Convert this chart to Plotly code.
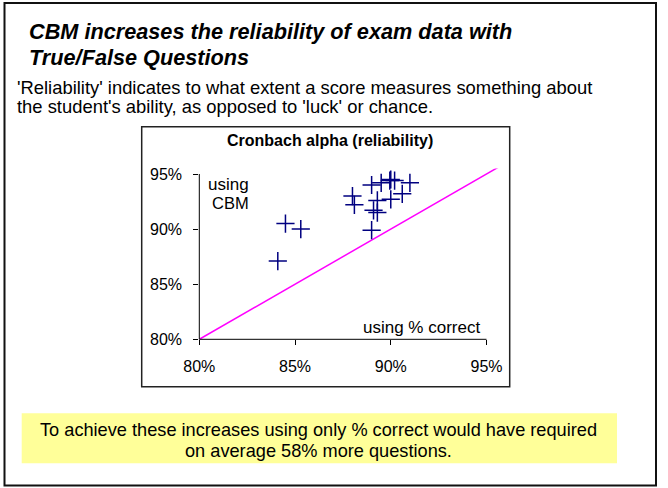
import plotly.graph_objects as go

# ---- data ----
pct_correct = [0.841, 0.845, 0.853, 0.880, 0.881, 0.890, 0.890, 0.891, 0.893,
               0.893, 0.895, 0.8995, 0.900, 0.902, 0.900, 0.906, 0.910]
cbm_alpha   = [0.871, 0.905, 0.900, 0.930, 0.922, 0.940, 0.899, 0.917, 0.915,
               0.926, 0.942, 0.944, 0.945, 0.944, 0.927, 0.932, 0.942]
diag = [0.80, 0.957]
tick_vals = [0.80, 0.85, 0.90, 0.95]

title_lines = ["CBM increases the reliability of exam data with", "True/False Questions"]
sub_lines = ["'Reliability' indicates to what extent a score measures something about",
             "the student's ability, as opposed to 'luck' or chance."]
note_lines = ["To achieve these increases using only % correct would have required",
              "on average 58% more questions."]

W, H = 668, 488
FONT = "Arial, 'Liberation Sans', sans-serif"

def px(x):
    return x / W

def py(y):
    return 1 - y / H

# plot geometry (pixels)
X0, X95 = 199.3, 486.5
Y0, Y95 = 339.3, 174.0
xr = [0.80, 0.957]
yr = [0.80, 0.955]
sx = (X95 - X0) / 0.15
sy = (Y0 - Y95) / 0.15
xright = X0 + (xr[1] - xr[0]) * sx
ytop = Y0 - (yr[1] - yr[0]) * sy

fig = go.Figure()
fig.add_trace(go.Scatter(x=diag, y=diag, mode="lines",
                         line=dict(color="#FF00FF", width=1.5),
                         hoverinfo="skip", showlegend=False))
fig.add_trace(go.Scatter(x=pct_correct, y=cbm_alpha, mode="markers",
                         marker=dict(symbol="cross-thin", size=13,
                                     line=dict(color="#000080", width=1.5)),
                         showlegend=False, cliponaxis=False))

shapes = [
    # outer frame
    dict(type="rect", xref="paper", yref="paper", x0=px(4.5), x1=px(656), y0=py(3), y1=py(485.5),
         line=dict(color="#111111", width=2), fillcolor="rgba(0,0,0,0)", layer="below"),
    # chart box
    dict(type="rect", xref="paper", yref="paper", x0=px(141.7), x1=px(509.7), y0=py(126.7), y1=py(386.7),
         line=dict(color="#222222", width=1.5), fillcolor="white", layer="below"),
    # yellow note box
    dict(type="rect", xref="paper", yref="paper", x0=px(21.7), x1=px(617), y0=py(413.3), y1=py(463.3),
         line=dict(width=0), fillcolor="#FFFF99", layer="below"),
    # axis lines
    dict(type="line", xref="paper", yref="paper", x0=px(X0), x1=px(X0), y0=py(Y0), y1=py(Y95),
         line=dict(color="black", width=1)),
    dict(type="line", xref="paper", yref="paper", x0=px(X0), x1=px(X95), y0=py(Y0), y1=py(Y0),
         line=dict(color="black", width=1)),
]

ann = []
def text(x, y, s, size, xanchor="left", bold=False, italic=False):
    t = s
    if italic:
        t = "<i>" + t + "</i>"
    if bold:
        t = "<b>" + t + "</b>"
    ann.append(dict(x=px(x), y=py(y), xref="paper", yref="paper", text=t, showarrow=False,
                    xanchor=xanchor, yanchor="middle",
                    font=dict(family=FONT, size=size, color="black")))

text(27, 32, title_lines[0], 21.7, bold=True, italic=True)
text(27, 58, title_lines[1], 21.7, bold=True, italic=True)
text(15, 87, sub_lines[0], 18.4)
text(15, 107, sub_lines[1], 18.4)
text(329.5, 141, "Cronbach alpha (reliability)", 16, xanchor="center", bold=True)
text(228.5, 184, "using", 17, xanchor="center")
text(230, 203, "CBM", 16.5, xanchor="center")
text(421, 327, "using % correct", 17, xanchor="center")
text(318, 430, note_lines[0], 18.2, xanchor="center")
text(318, 451, note_lines[1], 18.2, xanchor="center")

fig.update_layout(
    width=W, height=H,
    margin=dict(l=0, r=0, t=0, b=0, autoexpand=False),
    paper_bgcolor="white", plot_bgcolor="rgba(0,0,0,0)",
    shapes=shapes, annotations=ann,
    font=dict(family=FONT, size=16, color="black"),
    xaxis=dict(domain=[px(X0), px(xright)], range=xr, tickvals=tick_vals, tickformat=".0%",
               automargin=False,
               showgrid=False, zeroline=False, showline=False,
               ticks="outside", ticklen=5, tickcolor="black", tickwidth=1,
               ticklabelstandoff=7, tickfont=dict(size=16, family=FONT, color="black")),
    yaxis=dict(domain=[py(Y0), py(ytop)], range=yr, tickvals=tick_vals, tickformat=".0%",
               automargin=False,
               showgrid=False, zeroline=False, showline=False,
               ticks="outside", ticklen=5, tickcolor="black", tickwidth=1,
               ticklabelstandoff=8, tickfont=dict(size=16, family=FONT, color="black")),
)

fig.write_html("out.html", config={"displayModeBar": False},
               post_script="document.body.style.margin='0px';")
